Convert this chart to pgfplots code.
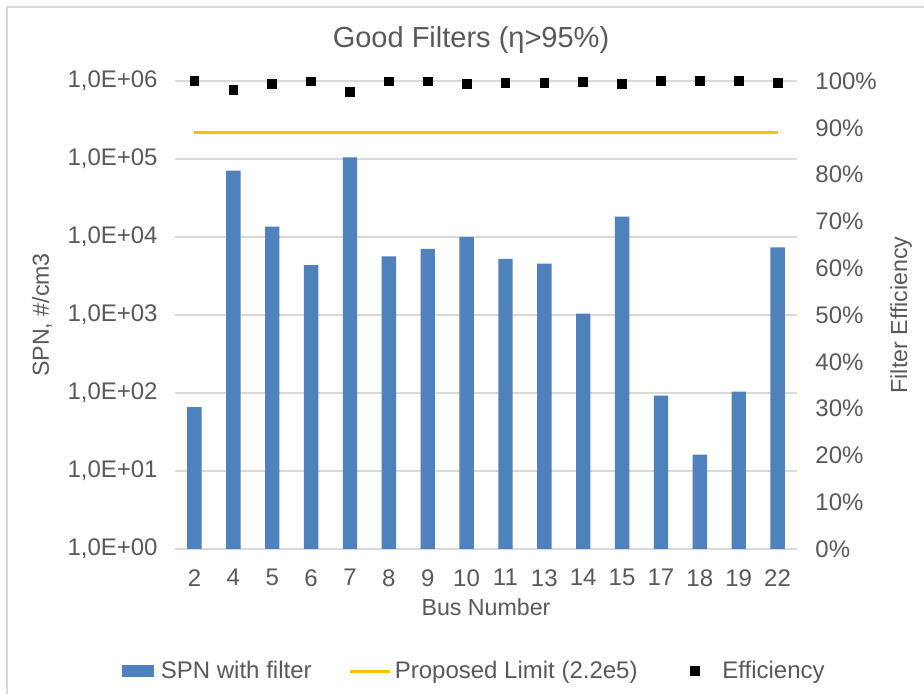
\documentclass[border=0pt]{standalone}
\usepackage{fontspec}
\setmainfont{Liberation Sans}
\usepackage{pgfplots}
\pgfplotsset{compat=1.18}
\definecolor{txt}{HTML}{595959}
\definecolor{grd}{HTML}{D9D9D9}
\definecolor{barblue}{HTML}{4F81BD}
\definecolor{gold}{HTML}{FFC000}
\newcommand{\fs}{\fontsize{12pt}{14.4pt}\selectfont}
\newcommand{\fl}{\fontsize{11.6pt}{14pt}\selectfont}
\begin{document}
\begin{tikzpicture}
\useasboundingbox (0,0) rectangle (462pt,347pt);
\fill[white] (0,0) rectangle (462pt,347pt);
\draw[grd, line width=1pt] (3.5pt,-1pt) -- (3.5pt,343.5pt) -- (463pt,343.5pt);
\begin{axis}[
  at={(87.5pt,72.5pt)}, anchor=south west,
  scale only axis, width=311pt, height=234pt,
  ymode=log, ymin=1, ymax=1e6, log origin=infty,
  xmin=-0.5, xmax=15.5,
  xtick={0,...,15},
  xticklabels={2,4,5,6,7,8,9,10,11,13,14,15,17,18,19,22},
  ytick={1,10,100,1000,10000,100000,1000000},
  yticklabels={{1,0E+00},{1,0E+01},{1,0E+02},{1,0E+03},{1,0E+04},{1,0E+05},{1,0E+06}},
  ymajorgrids, grid style={grd, line width=0.75pt},
  axis line style={draw=none},
  tick style={draw=none}, major tick length=0pt,
  tick label style={font=\fs, text=txt, inner sep=0pt},
  yticklabel style={anchor=east, xshift=-8.5pt},
  xticklabel style={anchor=north, yshift=-10pt},
  clip=false,
  every axis title shift=0pt,
  title={Good Filters (η>95\%)},
  title style={at={(axis description cs:0.4759,1.0876)}, anchor=center,
    font=\fontsize{14.5pt}{17pt}\selectfont, text=txt},
  xlabel={Bus Number},
  every axis x label/.style={at={(axis description cs:0.5,-0.1239)}, anchor=center, font=\fl, text=txt},
  ylabel={SPN, \#/cm3},
  every axis y label/.style={at={(axis description cs:-0.2138,0.5)}, rotate=90, anchor=center, font=\fl, text=txt},
  legend style={at={(axis description cs:0.482,-0.261)}, anchor=center,
    draw=none, fill=none, legend columns=3, font=\fs, text=txt,
    nodes={inner sep=1.5pt},
    /tikz/every even column/.append style={column sep=17pt}},
]
\addplot[ybar, bar width=0.37, fill=barblue, draw=none, bar shift=0pt,
  legend image code/.code={\fill[barblue] (0pt,-3pt) rectangle (16pt,3pt); \path (0pt,0pt) (18pt,0pt);}]
  coordinates {(0,66) (1,70700) (2,13600) (3,4360) (4,104500) (5,5640) (6,7050) (7,9940)
               (8,5250) (9,4540) (10,1042) (11,18270) (12,92.6) (13,16.2) (14,104) (15,7350)};
\addlegendentry{SPN with filter}
\addplot[gold, line width=1.6pt, mark=none,
  legend image code/.code={\draw[gold, line width=1.6pt] (0pt,0pt) -- (20pt,0pt);}]
  coordinates {(0,2.2e5) (15,2.2e5)};
\addlegendentry{Proposed Limit (2.2e5)}
\addlegendimage{only marks, black,
  legend image code/.code={\fill[black] (7.8pt,-2.2pt) rectangle (12.2pt,2.2pt); \path (0pt,0pt) (22pt,0pt);}}
\addlegendentry{Efficiency}
\end{axis}
\begin{axis}[
  at={(87.5pt,72.5pt)}, anchor=south west,
  scale only axis, width=311pt, height=234pt,
  xmin=-0.5, xmax=15.5, ymin=0, ymax=1,
  axis y line*=right, axis x line=none,
  ytick={0,0.1,0.2,0.3,0.4,0.5,0.6,0.7,0.8,0.9,1},
  yticklabels={0\%,10\%,20\%,30\%,40\%,50\%,60\%,70\%,80\%,90\%,100\%},
  axis line style={draw=none},
  tick style={draw=none}, major tick length=0pt,
  tick label style={font=\fs, text=txt, inner sep=0pt},
  yticklabel style={anchor=west, xshift=9pt},
  clip=false,
  ylabel={Filter Efficiency},
  every axis y label/.style={at={(axis description cs:1.1672,0.5)}, rotate=90, anchor=center, font=\fl, text=txt},
]
\addplot[only marks, mark=square*, mark size=2.2pt, black]
  coordinates {(0,1.000) (1,0.981) (2,0.994) (3,0.999) (4,0.976) (5,0.999) (6,0.999) (7,0.994)
               (8,0.996) (9,0.996) (10,0.998) (11,0.994) (12,1.000) (13,1.000) (14,1.000) (15,0.996)};
\end{axis}
\end{tikzpicture}
\end{document}
